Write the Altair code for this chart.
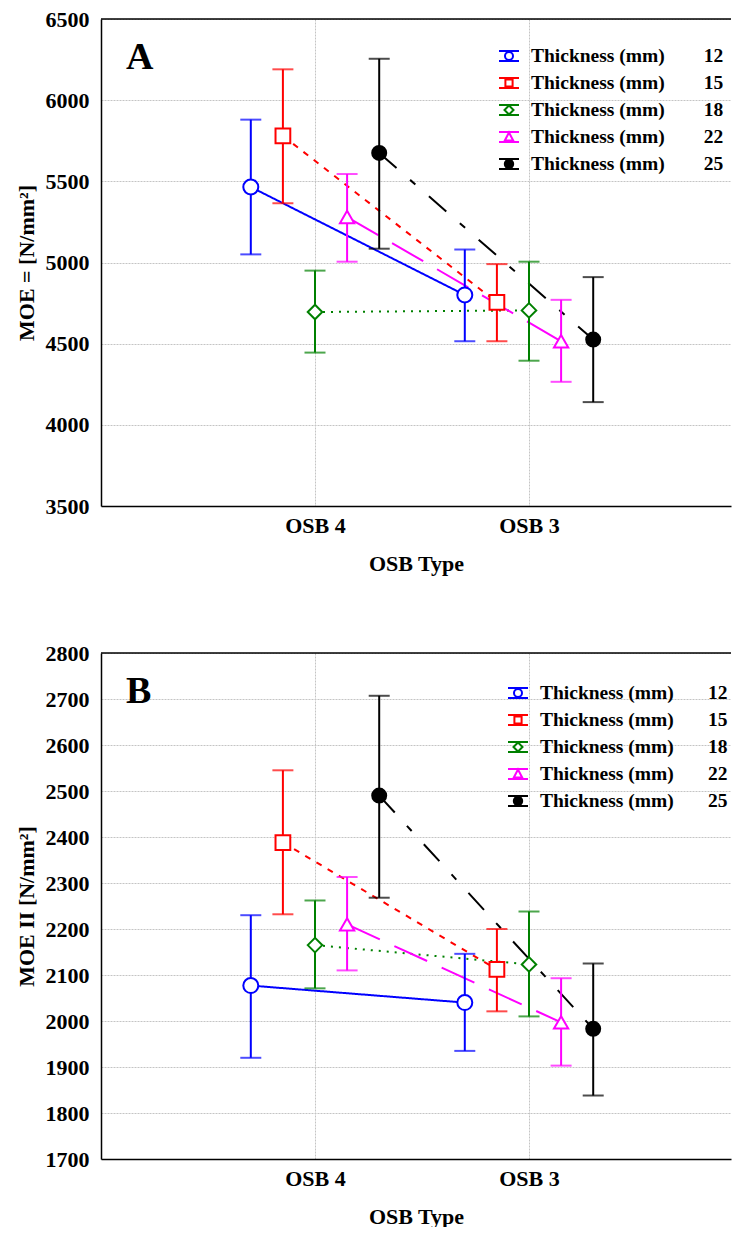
import altair as alt
import pandas as pd

# ---------------- data ----------------
types = ["OSB 4", "OSB 3"]
thickness = ["12", "15", "18", "22", "25"]
series_label = "Thickness (mm)"

# Panel A : MOE
a_mean_osb4 = [5465, 5780, 4695, 5280, 5675]
a_mean_osb3 = [4800, 4755, 4705, 4515, 4525]
a_low_osb4 = [5050, 5365, 4445, 5005, 5085]
a_high_osb4 = [5880, 6190, 4950, 5545, 6255]
a_low_osb3 = [4515, 4515, 4395, 4265, 4140]
a_high_osb3 = [5080, 4990, 5005, 4770, 4910]
a_ticks = [3500, 4000, 4500, 5000, 5500, 6000, 6500]

# Panel B : MOE II
b_mean_osb4 = [2077, 2388, 2165, 2210, 2490]
b_mean_osb3 = [2040, 2112, 2123, 1997, 1983]
b_low_osb4 = [1920, 2232, 2071, 2110, 2268]
b_high_osb4 = [2230, 2545, 2262, 2313, 2707]
b_low_osb3 = [1935, 2021, 2010, 1903, 1838]
b_high_osb3 = [2146, 2200, 2238, 2093, 2125]
b_ticks = [1700, 1800, 1900, 2000, 2100, 2200, 2300, 2400, 2500, 2600, 2700, 2800]

# ---------------- style ----------------
FONT = "Liberation Serif"
colors = ["#0000ff", "#ff0000", "#008000", "#ff00ff", "#000000"]
shapes = ["circle", "square", "diamond", "triangle-up", "circle"]
fills = ["white", "white", "white", "white", "black"]
sizes = [225, 196, 225, 210, 256]
dashes = [[1, 0], [6, 7], [2, 6], [36, 16], [23, 18, 7, 18]]

beam = "M-1,-0.5H1M-1,0.5H1M0,-0.5V-0.4M0,0.4V0.5"
legend_paths = [
    beam + "M0.4,0A0.4,0.4,0,1,1,-0.4,0A0.4,0.4,0,1,1,0.4,0Z",
    beam + "M-0.36,-0.36H0.36V0.36H-0.36Z",
    beam + "M0,-0.45L0.45,0L0,0.45L-0.45,0Z",
    beam + "M0,-0.45L0.42,0.35L-0.42,0.35Z",
    beam + "M0.42,0A0.42,0.42,0,1,1,-0.42,0A0.42,0.42,0,1,1,0.42,0Z",
]

WIDTH = 630
PX_PER_CAT = 214
XMAX = WIDTH / PX_PER_CAT
DODGE = 0.15


def table(m4, m3, lo4, lo3, hi4, hi3):
    rows = []
    for t_i, (m, lo, hi) in enumerate([(m4, lo4, hi4), (m3, lo3, hi3)]):
        for s_i, th in enumerate(thickness):
            rows.append({
                "type": types[t_i], "thick": th,
                "xpos": t_i + 1 + (s_i - 2) * DODGE,
                "mean": m[s_i], "low": lo[s_i], "high": hi[s_i],
            })
    return pd.DataFrame(rows)


df_a = table(a_mean_osb4, a_mean_osb3, a_low_osb4, a_low_osb3, a_high_osb4, a_high_osb3)
df_b = table(b_mean_osb4, b_mean_osb3, b_low_osb4, b_low_osb3, b_high_osb4, b_high_osb3)

label_expr = " : ".join(
    [f"datum.value == {i + 1} ? '{t}'" for i, t in enumerate(types[:-1])] + [f"'{types[-1]}'"]
)


def panel(df, ticks, ytitle, letter, legend_x, legend_y, height, gap):
    xs = alt.Scale(domain=[0, XMAX], nice=False, zero=False)
    ys = alt.Scale(domain=[ticks[0], ticks[-1]], nice=False, zero=False)
    xaxis = alt.Axis(values=[1, 2], labelExpr=label_expr, title="OSB Type", grid=True,
                     labelPadding=9, titlePadding=17)
    yaxis = alt.Axis(values=ticks, format="d", title=ytitle, grid=True, labelPadding=12, titlePadding=7)

    def X(f):
        return alt.X(f, scale=xs, axis=xaxis)

    def Y(f):
        return alt.Y(f, scale=ys, axis=yaxis)

    color = alt.Color("thick:N", scale=alt.Scale(domain=thickness, range=colors), legend=None)
    base = alt.Chart(df)

    lines = base.mark_line(strokeWidth=2).encode(
        x=X("xpos:Q"), y=Y("mean:Q"), color=color,
        strokeDash=alt.StrokeDash("thick:N", scale=alt.Scale(domain=thickness, range=dashes), legend=None),
        order=alt.Order("xpos:Q"),
    )
    bars = base.mark_rule(strokeWidth=2).encode(x=X("xpos:Q"), y=Y("low:Q"), y2="high:Q", color=color)
    cap_lo = base.mark_tick(orient="horizontal", size=21, thickness=2).encode(
        x=X("xpos:Q"), y=Y("low:Q"), color=color)
    cap_hi = base.mark_tick(orient="horizontal", size=21, thickness=2).encode(
        x=X("xpos:Q"), y=Y("high:Q"), color=color)
    points = base.mark_point(strokeWidth=2, opacity=1).encode(
        x=X("xpos:Q"), y=Y("mean:Q"), color=color,
        shape=alt.Shape("thick:N", scale=alt.Scale(domain=thickness, range=shapes), legend=None),
        fill=alt.Fill("thick:N", scale=alt.Scale(domain=thickness, range=fills), legend=None),
        size=alt.Size("thick:N", scale=alt.Scale(domain=thickness, range=sizes), legend=None),
    )
    legend_expr = "'" + series_label + "\u00a0" * gap + "' + datum.label"
    leg = alt.Legend(
        orient="none", legendX=legend_x, legendY=legend_y, title=None,
        labelExpr=legend_expr, labelFont=FONT, labelFontSize=19.5, labelFontWeight="bold",
        labelColor="black", labelLimit=500, labelOffset=11, symbolSize=400,
        symbolStrokeWidth=2, symbolOpacity=1, rowPadding=6, padding=0,
    )
    dummy = base.transform_filter(f"datum.type == '{types[0]}'").mark_point(opacity=0).encode(
        x=X("xpos:Q"), y=Y("mean:Q"),
        color=alt.Color("thick:N", scale=alt.Scale(domain=thickness, range=colors), legend=leg),
        shape=alt.Shape("thick:N", scale=alt.Scale(domain=thickness, range=legend_paths), legend=leg),
        fill=alt.Fill("thick:N", scale=alt.Scale(domain=thickness, range=fills), legend=leg),
    )
    frame = alt.Chart(pd.DataFrame({"top": [ticks[-1]], "x0": [0.0], "x1": [XMAX]})).mark_rule(
        color="black", strokeWidth=1.5).encode(x=X("x0:Q"), x2="x1:Q", y=Y("top:Q"))
    letter_txt = alt.Chart(pd.DataFrame({"label": [letter]})).mark_text(
        font=FONT, fontSize=38, fontWeight="bold", align="left", baseline="alphabetic", color="black"
    ).encode(text="label:N", x=alt.value(25), y=alt.value(50))

    return alt.layer(frame, lines, bars, cap_lo, cap_hi, points, dummy, letter_txt).resolve_scale(
        color="independent", shape="independent", fill="independent",
        size="independent", strokeDash="independent",
    ).properties(width=WIDTH, height=height)


chart_a = panel(df_a, a_ticks, "MOE = [N/mm²]", "A", 397, 26, 487, 8)
chart_b = panel(df_b, b_ticks, "MOE II [N/mm²]", "B", 406, 29, 506, 7)

chart = alt.vconcat(chart_a, chart_b, spacing=68).properties(
    padding={"left": 15, "top": 8, "right": 0, "bottom": 0}
).configure_view(stroke=None).configure_axis(
    labelFont=FONT, labelFontSize=22, labelFontWeight="bold", labelColor="black",
    titleFont=FONT, titleFontSize=22, titleFontWeight="bold", titleColor="black",
    domainColor="black", domainWidth=1.5, gridColor="#c4c4c4", gridDash=[2, 1], gridWidth=1,
    ticks=False,
)

chart.save("out.html", embed_options={"renderer": "svg", "actions": False})
